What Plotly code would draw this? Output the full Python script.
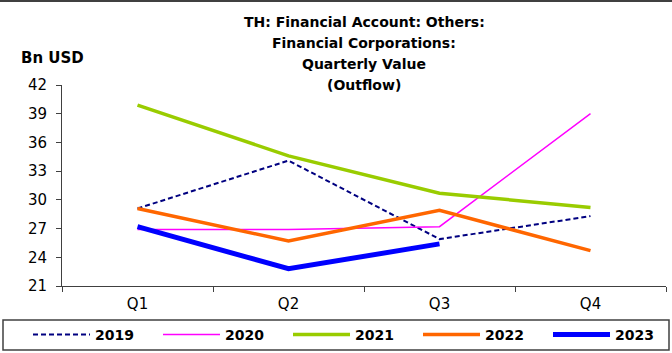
import plotly.graph_objects as go

quarters = ["Q1", "Q2", "Q3", "Q4"]
years = ["2019", "2020", "2021", "2022", "2023"]
values = {
    "2019": [29.1, 34.1, 25.9, 28.3],
    "2020": [26.9, 26.9, 27.2, 39.0],
    "2021": [39.9, 34.6, 30.7, 29.2],
    "2022": [29.1, 25.7, 28.9, 24.7],
    "2023": [27.2, 22.8, 25.4, None],
}
colors = {"2019": "#000080", "2020": "#FF00FF", "2021": "#99CC00",
          "2022": "#FF6600", "2023": "#0000FF"}
widths = {"2019": 2, "2020": 1.5, "2021": 3.5, "2022": 3.5, "2023": 5}
dashes = {"2019": "5px,3px", "2020": "solid", "2021": "solid",
          "2022": "solid", "2023": "solid"}
title_lines = ["TH: Financial Account: Others:", "Financial Corporations:",
               "Quarterly Value", "(Outflow)"]
y_ticks = [21, 24, 27, 30, 33, 36, 39, 42]

W, H = 672, 353
L, R, T, B = 62, 6, 85, 67
pw, ph = W - L - R, H - T - B
FONT = "DejaVu Sans, Verdana, sans-serif"


def px_x(x):
    return (x - L) / pw


def px_y(y):
    return (H - B - y) / ph


fig = go.Figure()
for yr in years:
    fig.add_trace(go.Scatter(
        x=quarters, y=values[yr], name="<b>%s</b>" % yr, mode="lines",
        line=dict(color=colors[yr], width=widths[yr], dash=dashes[yr]),
    ))

annotations = []
for i, line in enumerate(title_lines):
    annotations.append(dict(
        text="<b>%s</b>" % line, x=px_x(364), y=px_y(22 + i * 21),
        xref="paper", yref="paper", xanchor="center", yanchor="middle",
        showarrow=False, font=dict(size=14, color="#000000"),
    ))
annotations.append(dict(
    text="<b>Bn USD</b>", x=px_x(19), y=px_y(58), xref="paper", yref="paper",
    xanchor="left", yanchor="middle", showarrow=False,
    font=dict(size=15, color="#000000"),
))

shapes = [
    dict(type="line", xref="paper", yref="paper", x0=px_x(0), x1=px_x(W),
         y0=px_y(1), y1=px_y(1), line=dict(color="#404040", width=2)),
    dict(type="rect", xref="paper", yref="paper", x0=px_x(3), x1=px_x(669),
         y0=px_y(350), y1=px_y(320), line=dict(color="#404040", width=1.5)),
]

fig.update_layout(
    width=W, height=H,
    margin=dict(l=L, r=R, t=T, b=B, pad=0, autoexpand=False),
    paper_bgcolor="white", plot_bgcolor="white",
    font=dict(family=FONT, size=14, color="#000000"),
    showlegend=True,
    legend=dict(
        orientation="h", x=px_x(28), y=px_y(335), xanchor="left", yanchor="middle",
        font=dict(size=14), itemwidth=57, entrywidth=58, traceorder="normal",
        bgcolor="rgba(0,0,0,0)", borderwidth=0,
    ),
    annotations=annotations,
    shapes=shapes,
    xaxis=dict(
        type="category", range=[-0.5, 3.5], showgrid=False, zeroline=False,
        showline=True, linecolor="#404040", linewidth=1,
        ticks="outside", ticklen=5, tickcolor="#404040", tickson="boundaries",
        tickfont=dict(size=15), ticklabelstandoff=4,
    ),
    yaxis=dict(
        range=[21, 42], tickvals=y_ticks, showgrid=False, zeroline=False,
        showline=True, linecolor="#404040", linewidth=1,
        ticks="outside", ticklen=5, tickcolor="#404040",
        tickfont=dict(size=15), ticklabelstandoff=6,
    ),
)

fig.write_html("out.html")
